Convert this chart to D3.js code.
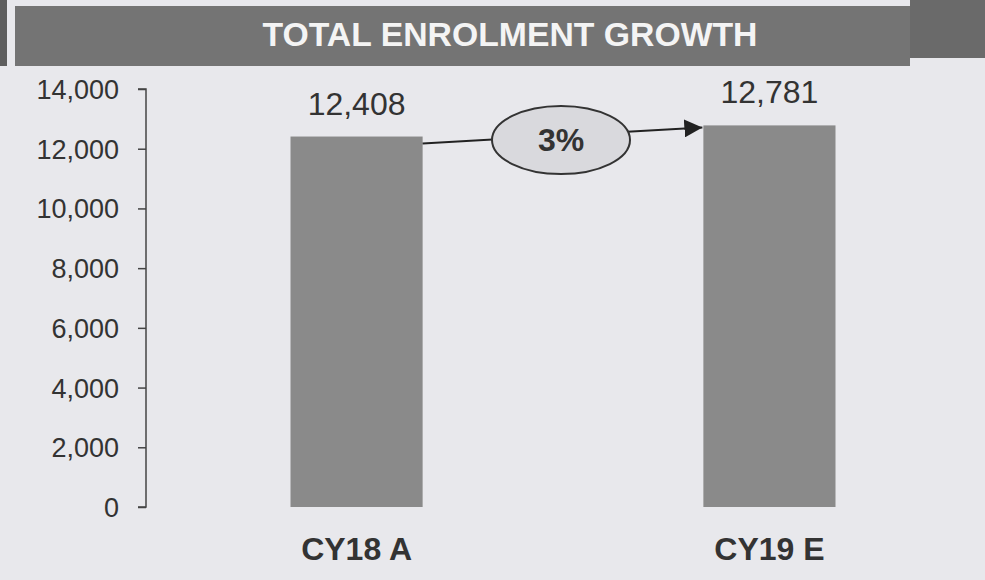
<!DOCTYPE html>
<html>
<head>
<meta charset="utf-8">
<script src="https://cdn.jsdelivr.net/npm/d3@7"></script>
<style>
  html, body { margin: 0; padding: 0; background: #e8e8ec; }
  svg { display: block; font-family: "Liberation Sans", Arial, sans-serif; }
</style>
</head>
<body>
<div id="chart"></div>
<script>
const categories = ["CY18 A", "CY19 E"];
const values = [12408, 12781];
const yTicks = [0, 2000, 4000, 6000, 8000, 10000, 12000, 14000];
const growthLabel = "3%";
const title = "TOTAL ENROLMENT GROWTH";

const W = 985, H = 580;
const svg = d3.select("#chart").append("svg").attr("width", W).attr("height", H);

svg.append("rect").attr("width", W).attr("height", H).attr("fill", "#e8e8ec");

// title banner
svg.append("rect").attr("x", 0).attr("y", 0).attr("width", 7).attr("height", 66).attr("fill", "#5e5e5e");
svg.append("rect").attr("x", 15).attr("y", 6).attr("width", 895).attr("height", 60).attr("fill", "#747474");
svg.append("rect").attr("x", 910).attr("y", 0).attr("width", 75).attr("height", 58).attr("fill", "#6a6a6a");
svg.append("text")
  .attr("x", 510).attr("y", 46)
  .attr("text-anchor", "middle")
  .attr("fill", "#f4f4f4")
  .attr("font-weight", "bold")
  .attr("font-size", 33)
  .attr("textLength", 495)
  .attr("lengthAdjust", "spacingAndGlyphs")
  .text(title);

const x = d3.scaleBand().domain(categories).range([146, 980]).paddingInner(0.68).paddingOuter(0.35);
const y = d3.scaleLinear().domain([0, 14000]).range([507, 89]);

const yAxis = svg.append("g")
  .attr("transform", "translate(146,0)")
  .call(d3.axisLeft(y).tickValues(yTicks).tickSize(8).tickPadding(19).tickFormat(d3.format(",")));
yAxis.select(".domain").attr("stroke", "#444").attr("stroke-width", 1.5).attr("d", `M-8,${y(14000)}H0V${y(0)}H-8`);
yAxis.selectAll(".tick line").attr("stroke", "#444").attr("stroke-width", 1.5);
yAxis.selectAll(".tick text")
  .attr("fill", "#333")
  .attr("font-size", 27)
  .attr("dy", "0.35em")
  .style("font-family", "'Liberation Sans', Arial, sans-serif");

svg.append("g").selectAll("rect")
  .data(values)
  .join("rect")
  .attr("x", (d, i) => x(categories[i]))
  .attr("y", (d) => y(d))
  .attr("width", x.bandwidth())
  .attr("height", (d) => y(0) - y(d))
  .attr("fill", "#8a8a8a");

svg.append("g").selectAll("text")
  .data(values)
  .join("text")
  .attr("x", (d, i) => x(categories[i]) + x.bandwidth() / 2)
  .attr("y", (d) => y(d) - 22)
  .attr("text-anchor", "middle")
  .attr("fill", "#333")
  .attr("font-size", 32)
  .text((d) => d3.format(",")(d));

svg.append("g").selectAll("text")
  .data(categories)
  .join("text")
  .attr("x", (d) => x(d) + x.bandwidth() / 2)
  .attr("y", 560)
  .attr("text-anchor", "middle")
  .attr("fill", "#333")
  .attr("font-weight", "bold")
  .attr("font-size", 32)
  .text((d) => d);

// growth arrow with ellipse
svg.append("defs").append("marker")
  .attr("id", "arrow")
  .attr("viewBox", "0 0 10 10")
  .attr("refX", 10).attr("refY", 5)
  .attr("markerWidth", 18).attr("markerHeight", 18)
  .attr("markerUnits", "userSpaceOnUse")
  .attr("orient", "auto")
  .append("path").attr("d", "M0,0L10,5L0,10z").attr("fill", "#222");

const x1 = x(categories[0]) + x.bandwidth();
const y1 = y(values[0]) + 7;
const x2 = x(categories[1]) - 1;
const y2 = y(values[1]) + 2;
svg.append("line")
  .attr("x1", x1).attr("y1", y1)
  .attr("x2", x2).attr("y2", y2)
  .attr("stroke", "#222").attr("stroke-width", 2)
  .attr("marker-end", "url(#arrow)");

const cx = 561, cy = 140;
svg.append("ellipse")
  .attr("cx", cx).attr("cy", cy).attr("rx", 69).attr("ry", 34)
  .attr("fill", "#d9d9dd").attr("stroke", "#333").attr("stroke-width", 2);
svg.append("text")
  .attr("x", cx).attr("y", cy + 11)
  .attr("text-anchor", "middle")
  .attr("fill", "#333")
  .attr("font-weight", "bold")
  .attr("font-size", 32)
  .text(growthLabel);
</script>
</body>
</html>
